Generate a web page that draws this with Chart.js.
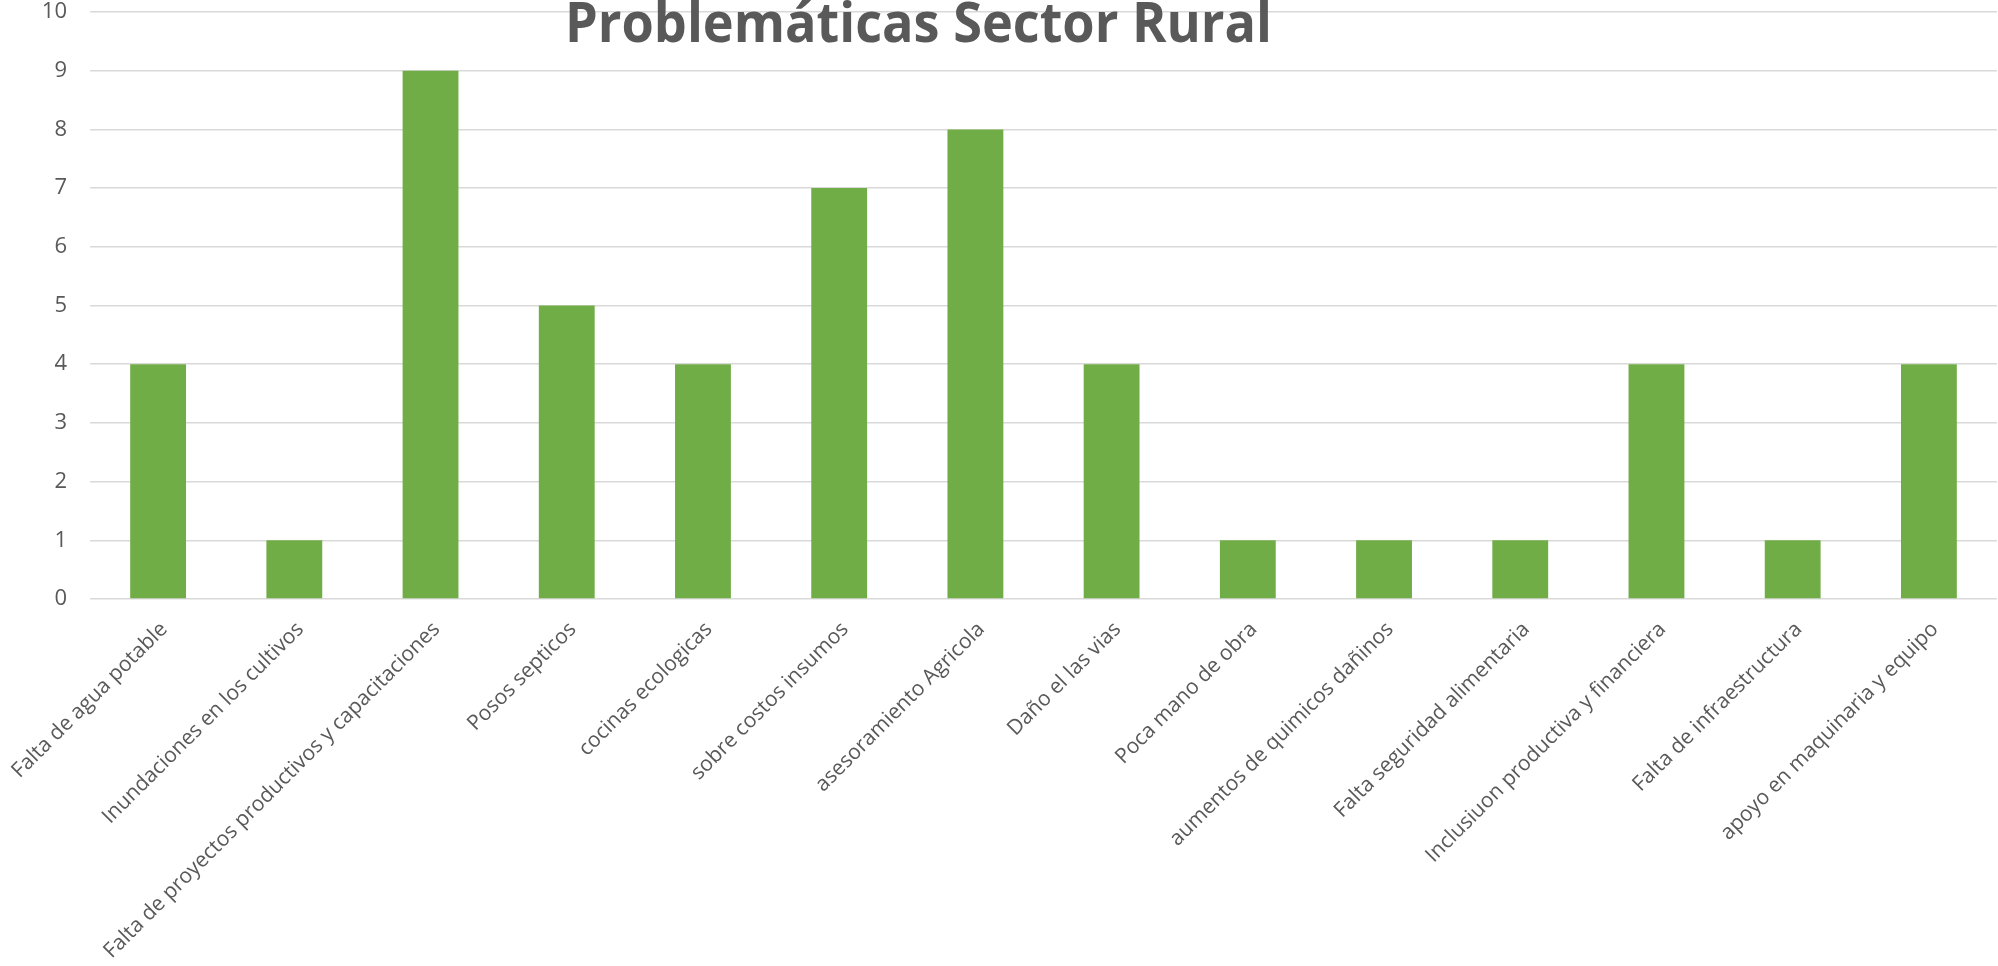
<!DOCTYPE html>
<html lang="es">
<head>
    <meta charset="UTF-8">
    <title>Problemáticas Sector Rural</title>
    <script src="https://cdn.jsdelivr.net/npm/chart.js"></script>
    <style>
        html, body { margin: 0; padding: 0; background: #ffffff; }
        #chartContainer { width: 1998px; height: 966px; }
    </style>
</head>
<body>

<div id="chartContainer">
    <canvas id="chartCanvas"></canvas>
</div>

<script>
    // Datos del grafico
    let categorias = [
        "Falta de agua potable",
        "Inundaciones en los cultivos",
        "Falta de proyectos productivos y capacitaciones",
        "Posos septicos",
        "cocinas ecologicas",
        "sobre costos insumos",
        "asesoramiento Agricola",
        "Daño el las vias",
        "Poca mano de obra",
        "aumentos de quimicos dañinos",
        "Falta seguridad alimentaria",
        "Inclusiuon productiva y financiera",
        "Falta de infraestructura",
        "apoyo en maquinaria y equipo"
    ];
    let valores = [4, 1, 9, 5, 4, 7, 8, 4, 1, 1, 1, 4, 1, 4];
    let ejeY = { min: 0, max: 10, paso: 1 };
    let titulo = "Problemáticas Sector Rural";

    // Titulo dibujado encima del area, como en Excel
    let tituloPlugin = {
        id: "tituloPlugin",
        afterDraw(chart) {
            let ctx = chart.ctx;
            ctx.save();
            ctx.font = "bold 55px 'Open Sans'";
            ctx.fillStyle = "#595959";
            ctx.textBaseline = "alphabetic";
            let ancho = ctx.measureText(titulo).width;
            let escala = 707 / ancho;
            ctx.translate(565, 42);
            ctx.scale(escala, 1);
            ctx.fillText(titulo, 0, 0);
            ctx.restore();
        }
    };

    let ctx = document.getElementById("chartCanvas").getContext("2d");
    let chart = new Chart(ctx, {
        type: "bar",
        data: {
            labels: categorias,
            datasets: [{
                data: valores,
                backgroundColor: "#70ad47",
                borderWidth: 0,
                barPercentage: 0.41,
                categoryPercentage: 1.0
            }]
        },
        options: {
            responsive: true,
            maintainAspectRatio: false,
            animation: false,
            layout: { padding: { top: 12, right: 1, left: 0, bottom: 0 } },
            plugins: {
                legend: { display: false },
                tooltip: { enabled: false }
            },
            scales: {
                x: {
                    grid: { display: false },
                    border: { display: false },
                    ticks: {
                        autoSkip: false,
                        maxRotation: 45,
                        minRotation: 45,
                        color: "#595959",
                        padding: 10,
                        labelOffset: 6,
                        font: { family: "'Open Sans'", size: 21 }
                    },
                    afterFit(scale) {
                        scale.height = 367;
                        scale.paddingLeft = 0;
                        scale.paddingRight = 0;
                    }
                },
                y: {
                    min: ejeY.min,
                    max: ejeY.max,
                    border: { display: false },
                    grid: { color: "#d9d9d9", lineWidth: 1.5, drawTicks: false },
                    ticks: {
                        stepSize: ejeY.paso,
                        color: "#595959",
                        padding: 23,
                        font: { family: "'Open Sans'", size: 22, lineHeight: 1 }
                    },
                    afterFit(scale) {
                        scale.width = 90;
                        scale.paddingTop = 12;
                        scale.paddingBottom = 0;
                    }
                }
            }
        },
        plugins: [tituloPlugin]
    });
</script>

</body>
</html>
